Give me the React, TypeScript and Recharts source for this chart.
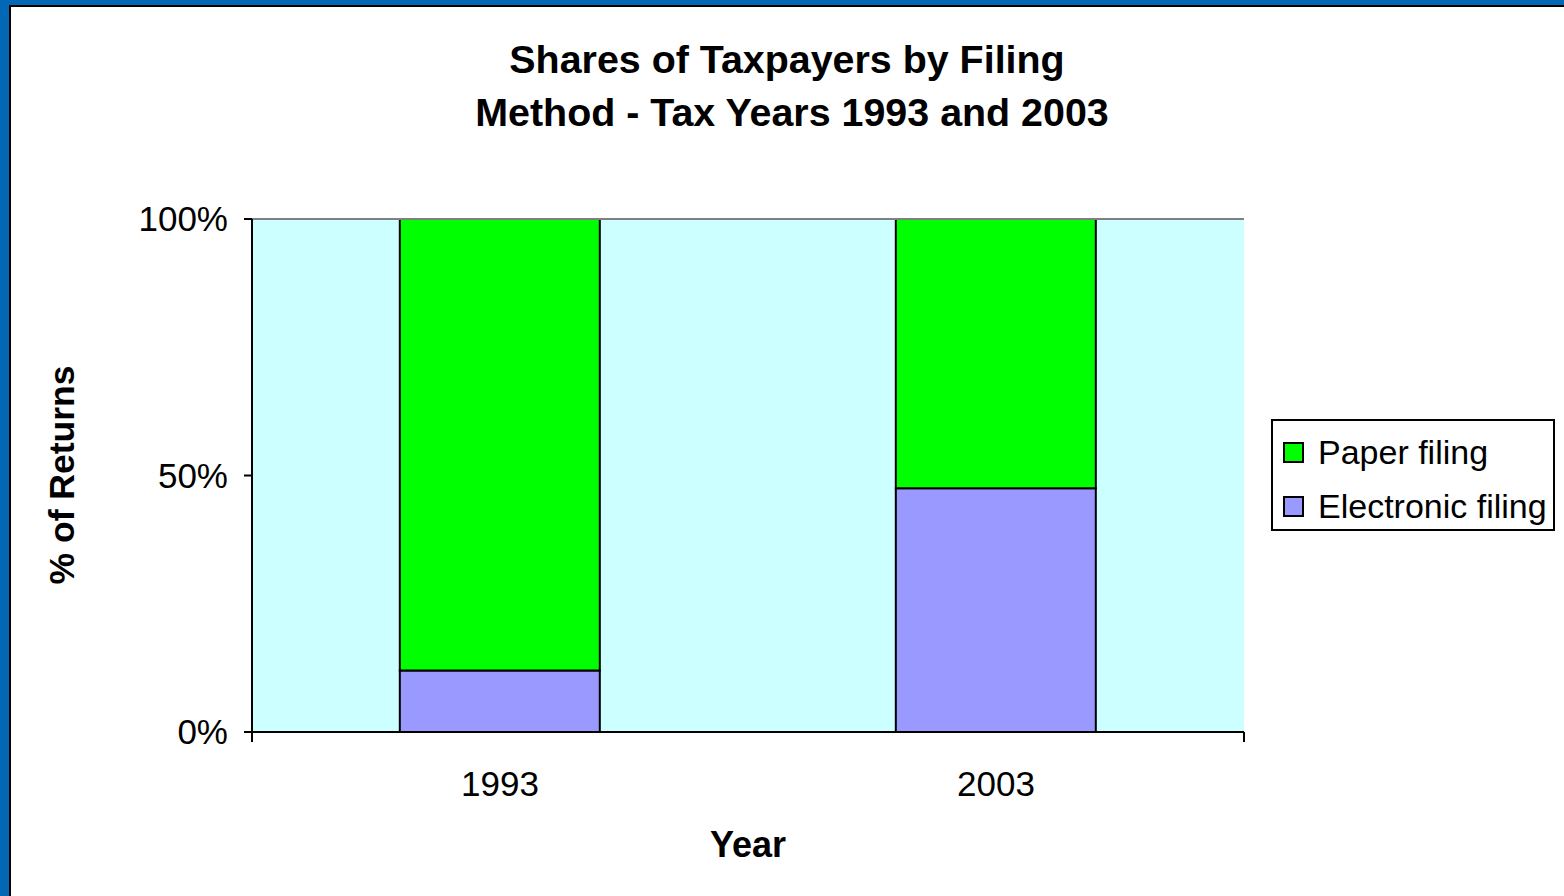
import React from "react";
import {
  BarChart,
  Bar,
  XAxis,
  YAxis,
  CartesianGrid,
  ReferenceLine,
  Legend,
} from "recharts";

const years = ["1993", "2003"];
const electronicShare = [12, 47.5];
const paperShare = [88, 52.5];
const yTicks = [0, 50, 100];
const edgeTicks = [0, 1, 2];

const FONT = '"Liberation Sans", Arial, sans-serif';

const data = years.map((year, i) => ({
  year,
  electronic: electronicShare[i],
  paper: paperShare[i],
}));

function LegendBox(props: any) {
  // Excel lists the top series first
  const items = [...(props.payload || [])].reverse();
  return (
    <div
      style={{
        width: 280,
        height: 104,
        paddingTop: 4,
        border: "2px solid #000",
        background: "#fff",
        fontFamily: FONT,
        fontSize: 34,
        color: "#000",
        boxSizing: "content-box",
      }}
    >
      {items.map((item: any) => (
        <div
          key={item.value}
          style={{
            display: "flex",
            alignItems: "center",
            height: 54,
            paddingLeft: 10,
          }}
        >
          <span
            style={{
              width: 17,
              height: 17,
              border: "2px solid #000",
              background: item.color,
              marginRight: 14,
              display: "inline-block",
            }}
          />
          <span>{item.value}</span>
        </div>
      ))}
    </div>
  );
}

export default function App() {
  return (
    <div
      style={{
        position: "fixed",
        left: 0,
        top: 0,
        width: 1564,
        height: 896,
        background: "#0068B4",
        overflow: "hidden",
      }}
    >
      <div
        style={{
          position: "absolute",
          left: 9,
          top: 5,
          width: 1570,
          height: 900,
          border: "2px solid #000",
          background: "#fff",
        }}
      />
      <div
        style={{
          position: "absolute",
          left: 0,
          top: 0,
          width: 1564,
          height: 896,
        }}
      >
        <BarChart
          width={1564}
          height={896}
          data={data}
          margin={{ top: 219, right: 36, left: 172, bottom: 104 }}
          barCategoryGap="29.8%"
        >
          <CartesianGrid
            fill="#CCFFFF"
            horizontal={false}
            vertical={false}
          />
          {/* Excel puts the category ticks on the boundaries between categories */}
          <XAxis
            xAxisId="aEdge"
            type="number"
            domain={[0, 2]}
            ticks={edgeTicks}
            tick={() => <g />}
            axisLine={{ stroke: "#000", strokeWidth: 2 }}
            tickLine={{ stroke: "#000", strokeWidth: 2 }}
            tickSize={10}
            height={1}
          />
          <XAxis
            xAxisId="cat"
            dataKey="year"
            height={59}
            tickLine={false}
            axisLine={false}
            tickMargin={32}
            tick={{ fill: "#000", fontSize: 35, fontFamily: FONT }}
          />
          <YAxis
            width={80}
            domain={[0, 100]}
            ticks={yTicks}
            tickFormatter={(v) => `${v}%`}
            axisLine={{ stroke: "#000", strokeWidth: 2 }}
            tickLine={{ stroke: "#000", strokeWidth: 2 }}
            tickSize={8}
            tickMargin={16}
            tick={{ fill: "#000", fontSize: 35, fontFamily: FONT }}
            interval={0}
          />
          <ReferenceLine y={100} xAxisId="cat" stroke="#808080" strokeWidth={2} />
          <ReferenceLine x={2} xAxisId="aEdge" stroke="#808080" strokeWidth={2} />
          <Bar
            xAxisId="cat"
            dataKey="electronic"
            name="Electronic filing"
            stackId="a"
            fill="#9999FF"
            stroke="#000"
            strokeWidth={2}
            isAnimationActive={false}
          />
          <Bar
            xAxisId="cat"
            dataKey="paper"
            name="Paper filing"
            stackId="a"
            fill="#00FF00"
            stroke="#000"
            strokeWidth={2}
            isAnimationActive={false}
          />
          <Legend
            content={LegendBox}
            layout="vertical"
            align="right"
            verticalAlign="middle"
            wrapperStyle={{ position: "absolute", left: 1271, top: 419, width: "auto" }}
          />
        </BarChart>
      </div>
      <div
        style={{
          position: "absolute",
          left: 387,
          top: 33,
          width: 800,
          textAlign: "center",
          fontFamily: FONT,
          fontWeight: "bold",
          fontSize: 39.4,
          lineHeight: "53px",
          color: "#000",
        }}
      >
        <div>Shares of Taxpayers by Filing</div>
        <div style={{ paddingLeft: 10 }}>Method - Tax Years 1993 and 2003</div>
      </div>
      <div
        style={{
          position: "absolute",
          left: 648,
          top: 824,
          width: 200,
          textAlign: "center",
          fontFamily: FONT,
          fontWeight: "bold",
          fontSize: 36,
          color: "#000",
        }}
      >
        Year
      </div>
      <div
        style={{
          position: "absolute",
          left: 62,
          top: 475,
          transform: "translate(-50%, -50%) rotate(-90deg)",
          whiteSpace: "nowrap",
          fontFamily: FONT,
          fontWeight: "bold",
          fontSize: 35.5,
          color: "#000",
        }}
      >
        % of Returns
      </div>
    </div>
  );
}
